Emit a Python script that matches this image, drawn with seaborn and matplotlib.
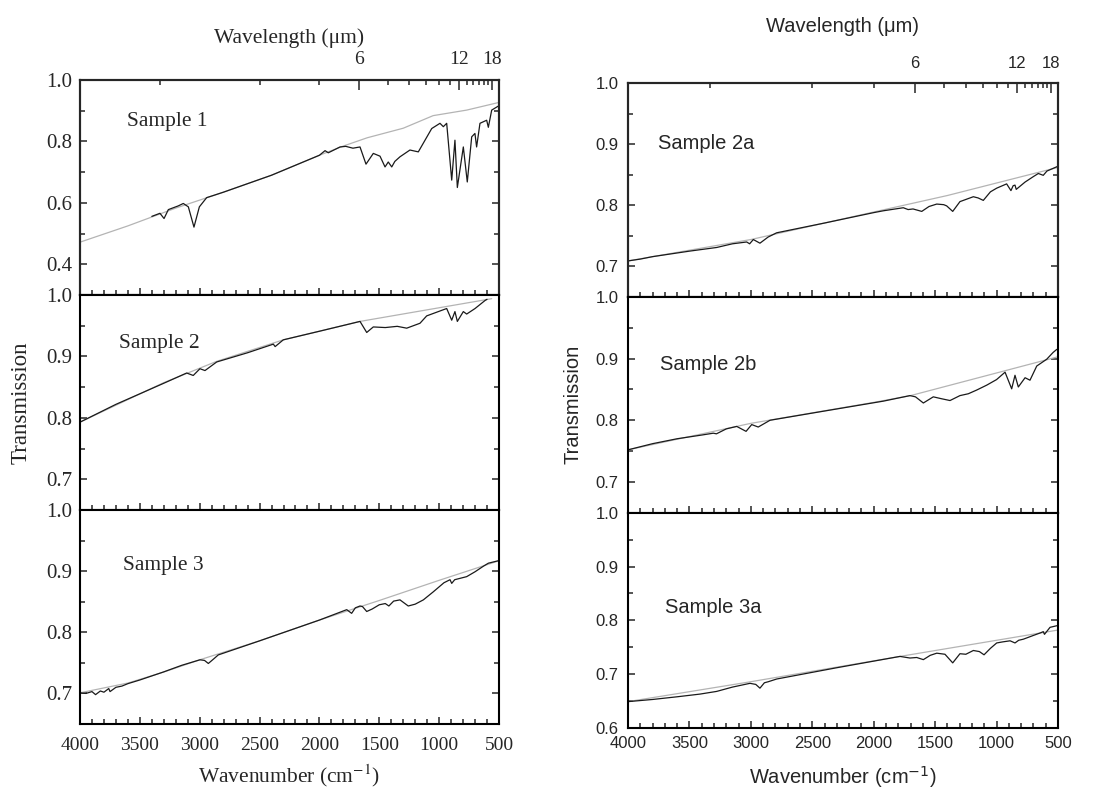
import matplotlib
matplotlib.use('Agg')
import matplotlib.pyplot as plt
import numpy as np
import seaborn as sns

# -----------------------------------------------------------------------
# Spectra: wavenumber (cm-1) and transmission
s1_wn = [3400, 3332, 3298, 3262, 3180, 3137, 3095, 3048, 3003, 2942, 2886, 2800,
         2400, 2000, 1953, 1926, 1828, 1780, 1720, 1661, 1611, 1550, 1494, 1452,
         1425, 1396, 1370, 1327, 1244, 1174, 1118, 1062, 993, 965, 937, 895, 868,
         848, 798, 765, 728, 701, 687, 659, 603, 589, 561, 506]
s1_tr = [0.556, 0.566, 0.549, 0.578, 0.590, 0.598, 0.587, 0.521, 0.587, 0.617, 0.624, 0.635,
         0.690, 0.755, 0.770, 0.763, 0.782, 0.784, 0.778, 0.782, 0.726, 0.761, 0.752, 0.717,
         0.733, 0.717, 0.735, 0.750, 0.772, 0.766, 0.804, 0.842, 0.859, 0.848, 0.859, 0.674, 0.804,
         0.650, 0.782, 0.668, 0.815, 0.826, 0.782, 0.859, 0.869, 0.846, 0.902, 0.915]
s1_base_wn = [4000, 3600, 3200, 2800, 2400, 2000, 1800, 1600, 1300, 1050, 770, 500]
s1_base_tr = [0.472, 0.525, 0.583, 0.635, 0.690, 0.755, 0.785, 0.812, 0.843, 0.884, 0.902, 0.927]

s2_wn = [4000, 3700, 3304, 3109, 3054, 2998, 2956, 2858, 2600, 2385, 2370, 2302,
         2000, 1745, 1661, 1605, 1550, 1450, 1350, 1271, 1160, 1104, 937, 895,
         868, 848, 798, 770, 700, 617, 600]
s2_tr = [0.793, 0.822, 0.856, 0.873, 0.869, 0.880, 0.877, 0.891, 0.906, 0.920, 0.916, 0.927,
         0.941, 0.953, 0.957, 0.939, 0.948, 0.947, 0.949, 0.946, 0.954, 0.966, 0.978, 0.959,
         0.973, 0.957, 0.973, 0.969, 0.978, 0.991, 0.993]
s2_base_wn = [4000, 3304, 2858, 2302, 1661, 561]
s2_base_tr = [0.793, 0.857, 0.892, 0.927, 0.957, 0.994]

s3_wn = [4000, 3950, 3900, 3870, 3830, 3800, 3760, 3749, 3700, 3650, 3600, 3500,
         3304, 3150, 2998, 2960, 2928, 2880, 2845, 2500, 2000, 1772, 1731, 1700,
         1661, 1640, 1605, 1560, 1500, 1450, 1420, 1380, 1327, 1258, 1200, 1132,
         1050, 960, 909, 895, 870, 770, 700, 631, 589, 506]
s3_tr = [0.701, 0.700, 0.703, 0.698, 0.704, 0.702, 0.708, 0.703, 0.710, 0.712, 0.716, 0.722,
         0.735, 0.746, 0.755, 0.754, 0.749, 0.757, 0.763, 0.786, 0.820, 0.837, 0.831, 0.840,
         0.843, 0.842, 0.834, 0.838, 0.845, 0.847, 0.843, 0.851, 0.853, 0.843, 0.846, 0.853,
         0.866, 0.881, 0.886, 0.880, 0.886, 0.891, 0.899, 0.908, 0.913, 0.917]
s3_base_wn = [4000, 3600, 3300, 3000, 2500, 2000, 1500, 1000, 500]
s3_base_tr = [0.701, 0.717, 0.735, 0.755, 0.786, 0.820, 0.852, 0.885, 0.917]

s2a_wn = [4000, 3900, 3800, 3700, 3500, 3278, 3150, 3034, 3010, 2980, 2926, 2860,
          2790, 2400, 2000, 1922, 1759, 1720, 1680, 1609, 1550, 1487, 1430, 1406,
          1357, 1298, 1230, 1189, 1150, 1108, 1050, 999, 918, 883, 865, 850, 840,
          768, 700, 660, 620, 590, 510, 500]
s2a_tr = [0.709, 0.712, 0.716, 0.719, 0.725, 0.731, 0.737, 0.740, 0.737, 0.744, 0.738, 0.748,
          0.755, 0.771, 0.788, 0.791, 0.796, 0.793, 0.794, 0.790, 0.798, 0.802, 0.801, 0.799,
          0.790, 0.806, 0.811, 0.814, 0.812, 0.808, 0.822, 0.828, 0.835, 0.824, 0.832, 0.833, 0.826,
          0.838, 0.847, 0.852, 0.849, 0.856, 0.863, 0.864]
s2a_base_wn = [4000, 3000, 2000, 1400, 500]
s2a_base_tr = [0.709, 0.744, 0.789, 0.816, 0.862]

s2b_wn = [4000, 3800, 3600, 3400, 3306, 3280, 3200, 3115, 3039, 2993, 2940, 2844,
          2400, 1922, 1705, 1660, 1596, 1515, 1450, 1379, 1298, 1230, 1162, 1080,
          1000, 931, 877, 850, 823, 768, 728, 673, 592, 540, 510]
s2b_tr = [0.752, 0.762, 0.770, 0.776, 0.779, 0.778, 0.786, 0.790, 0.782, 0.793, 0.789, 0.800,
          0.815, 0.831, 0.840, 0.838, 0.828, 0.838, 0.835, 0.832, 0.840, 0.843, 0.849, 0.857,
          0.866, 0.878, 0.851, 0.873, 0.854, 0.869, 0.865, 0.888, 0.899, 0.910, 0.915]
s2b_base_wn = [4000, 3000, 2000, 1700, 500]
s2b_base_tr = [0.752, 0.795, 0.829, 0.840, 0.903]

s3a_wn = [4000, 3800, 3600, 3414, 3278, 3150, 3007, 2960, 2926, 2890, 2858, 2790,
          2300, 1786, 1705, 1650, 1596, 1540, 1487, 1420, 1357, 1298, 1250, 1189,
          1140, 1102, 1050, 999, 950, 890, 850, 820, 782, 700, 640, 620, 610, 565,
          510, 500]
s3a_tr = [0.649, 0.653, 0.658, 0.663, 0.668, 0.676, 0.683, 0.681, 0.674, 0.684, 0.686, 0.691,
          0.712, 0.733, 0.730, 0.731, 0.727, 0.735, 0.739, 0.737, 0.721, 0.738, 0.737, 0.744,
          0.742, 0.736, 0.748, 0.758, 0.760, 0.762, 0.758, 0.763, 0.765, 0.772, 0.777, 0.779, 0.774, 0.787,
          0.790, 0.790]
s3a_base_wn = [4000, 3000, 1786, 500]
s3a_base_tr = [0.649, 0.686, 0.733, 0.782]

# top axis: wavelength in micrometres
wl_labelled = [6, 12, 18]
wl_minor = [3, 4, 5, 7, 8, 9, 10, 11, 13, 14, 15, 16, 17]

# -----------------------------------------------------------------------
sns.set_style('ticks')
plt.rcParams['axes.linewidth'] = 1.5

SERIF = ['Liberation Serif', 'DejaVu Serif']
SANS = ['Liberation Sans', 'DejaVu Sans']

left = dict(family=SERIF, math='stix', fs_y=15, fs_x=14, fs_lab=15.5, fs_ylab=16.5,
            fs_name=15.5, fs_top=14, pad_y=5.8, pad_x=9, pad_top=8.6,
            toplab_y=1.172, botlab_y=-0.18, ylab_x=-0.115)
right = dict(family=SANS, math='dejavusans', fs_y=12, fs_x=12, fs_lab=14.5, fs_ylab=14.5,
             fs_name=14.5, fs_top=12, pad_y=7, pad_x=6, pad_top=8.6,
             toplab_y=1.240, botlab_y=-0.168, ylab_x=-0.105)

W, H = 1094, 790


def px_box(x0, x1, y0, y1):
    return [x0 / W, 1 - y1 / H, (x1 - x0) / W, (y1 - y0) / H]


panels = [
    dict(box=px_box(80, 499, 80, 295), cfg=left, row=0, name='Sample 1', nxy=(0.112, 0.805),
         wn=s1_wn, tr=s1_tr, bwn=s1_base_wn, btr=s1_base_tr, ylim=(0.3, 1.0),
         major=[0.4, 0.6, 0.8, 1.0], minor=[0.5, 0.7, 0.9]),
    dict(box=px_box(80, 499, 295, 510), cfg=left, row=1, name='Sample 2', nxy=(0.093, 0.775),
         wn=s2_wn, tr=s2_tr, bwn=s2_base_wn, btr=s2_base_tr, ylim=(0.65, 1.0),
         major=[0.7, 0.8, 0.9, 1.0], minor=[0.75, 0.85, 0.95]),
    dict(box=px_box(80, 499, 510, 724), cfg=left, row=2, name='Sample 3', nxy=(0.103, 0.740),
         wn=s3_wn, tr=s3_tr, bwn=s3_base_wn, btr=s3_base_tr, ylim=(0.65, 1.0),
         major=[0.7, 0.8, 0.9, 1.0], minor=[0.75, 0.85, 0.95]),
    dict(box=px_box(628, 1058, 83, 297), cfg=right, row=0, name='Sample 2a', nxy=(0.070, 0.718),
         wn=s2a_wn, tr=s2a_tr, bwn=s2a_base_wn, btr=s2a_base_tr, ylim=(0.65, 1.0),
         major=[0.7, 0.8, 0.9, 1.0], minor=[0.75, 0.85, 0.95]),
    dict(box=px_box(628, 1058, 297, 512.7), cfg=right, row=1, name='Sample 2b', nxy=(0.074, 0.685),
         wn=s2b_wn, tr=s2b_tr, bwn=s2b_base_wn, btr=s2b_base_tr, ylim=(0.65, 1.0),
         major=[0.7, 0.8, 0.9, 1.0], minor=[0.75, 0.85, 0.95]),
    dict(box=px_box(628, 1058, 512.7, 728), cfg=right, row=2, name='Sample 3a', nxy=(0.086, 0.561),
         wn=s3a_wn, tr=s3a_tr, bwn=s3a_base_wn, btr=s3a_base_tr, ylim=(0.6, 1.0),
         major=[0.6, 0.7, 0.8, 0.9, 1.0], minor=[0.65, 0.75, 0.85, 0.95]),
]

fig = plt.figure(figsize=(W / 100, H / 100), dpi=100)

for p in panels:
    cfg = p['cfg']
    ax = fig.add_axes(p['box'])
    # baseline (gray) under the measured spectrum (black)
    sns.lineplot(x=p['bwn'], y=p['btr'], ax=ax, color='#b4b4b4', linewidth=0.9,
                 estimator=None, sort=False)
    sns.lineplot(x=p['wn'], y=p['tr'], ax=ax, color='#1a1a1a', linewidth=0.9,
                 estimator=None, sort=False)

    ax.set_xlim(4000, 500)
    ax.set_ylim(*p['ylim'])
    ax.set_xticks(np.arange(4000, 499, -500))
    ax.set_xticks(np.arange(4000, 499, -100), minor=True)
    ax.set_yticks(p['major'])
    ax.set_yticks(p['minor'], minor=True)
    ax.yaxis.set_major_formatter(matplotlib.ticker.FormatStrFormatter('%.1f'))

    ax.tick_params(which='both', direction='in', top=False, right=True, width=1.1,
                   labelfontfamily=cfg['family'])
    ax.tick_params(which='major', length=5)
    ax.tick_params(which='minor', length=3.3)
    ax.tick_params(axis='y', labelsize=cfg['fs_y'], pad=cfg['pad_y'])
    ax.tick_params(axis='x', labelsize=cfg['fs_x'], pad=cfg['pad_x'],
                   labelbottom=(p['row'] == 2))
    for s in ax.spines.values():
        s.set_visible(True)
        s.set_linewidth(1.5)
        s.set_color('black')

    ax.set_xlabel('')
    ax.set_ylabel('')
    ax.text(p['nxy'][0], p['nxy'][1], p['name'], transform=ax.transAxes,
            ha='left', va='center', fontsize=cfg['fs_name'], family=cfg['family'])

    if p['row'] == 0:
        ax_top = ax.twiny()
        ax_top.set_xlim(ax.get_xlim())
        ax_top.set_xticks([1e4 / w for w in wl_labelled], labels=[str(w) for w in wl_labelled])
        ax_top.set_xticks([1e4 / w for w in wl_minor], minor=True)
        ax_top.tick_params(which='both', direction='in', width=1.1,
                           labelsize=cfg['fs_top'], pad=cfg['pad_top'],
                           labelfontfamily=cfg['family'])
        ax_top.tick_params(which='major', length=7)
        ax_top.tick_params(which='minor', length=3.5)
        ax_top.set_xlabel('Wavelength (\u03bcm)', fontsize=cfg['fs_lab'], family=cfg['family'])
        ax_top.xaxis.set_label_coords(0.5, cfg['toplab_y'])
        for s in ax_top.spines.values():
            s.set_linewidth(1.5)
    if p['row'] == 1:
        ax.set_ylabel('Transmission', fontsize=cfg['fs_ylab'], family=cfg['family'])
        ax.yaxis.set_label_coords(cfg['ylab_x'], 0.5)
    if p['row'] == 2:
        ax.set_xlabel('Wavenumber (cm$^{-1}$)', fontsize=cfg['fs_lab'], family=cfg['family'],
                      math_fontfamily=cfg['math'])
        ax.xaxis.set_label_coords(0.5, cfg['botlab_y'])

fig.savefig('out.png', dpi=100)
